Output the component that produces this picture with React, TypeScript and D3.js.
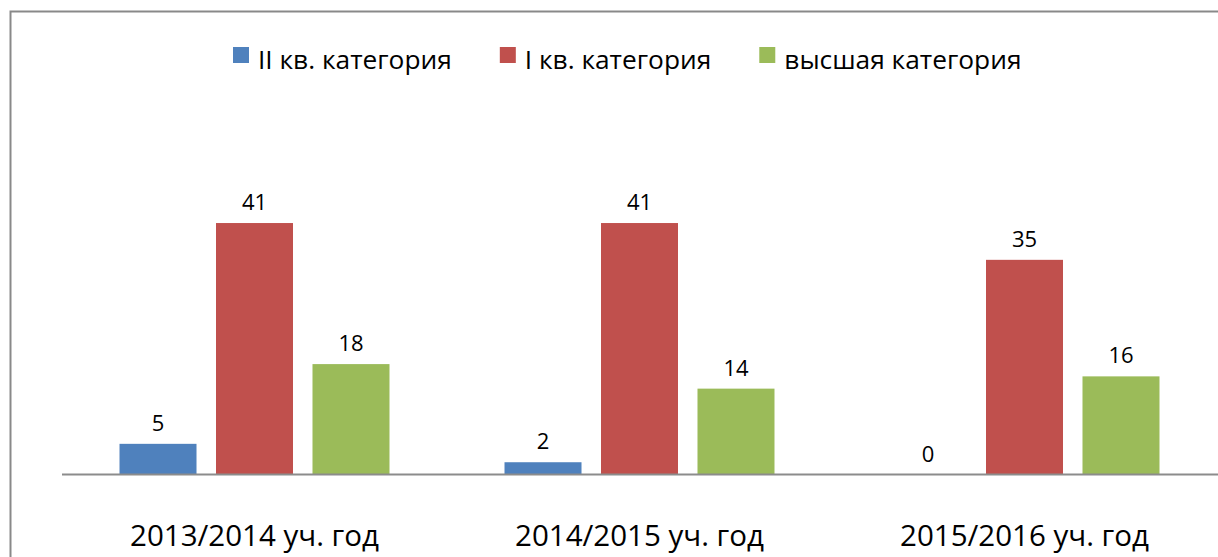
import React, { useEffect, useRef } from "react";
import * as d3 from "d3";

// categories and series
const categories = ["2013/2014 уч. год", "2014/2015 уч. год", "2015/2016 уч. год"];
const seriesNames = ["II кв. категория", "I кв. категория", "высшая категория"];
const secondCategory = [5, 2, 0];
const firstCategory = [41, 41, 35];
const highestCategory = [18, 14, 16];
const colors = ["#4F81BD", "#C0504D", "#9BBB59"];

const App = () => {
  const svgRef = useRef<SVGSVGElement>(null);

  useEffect(() => {
    const width = 1218;
    const height = 557;
    const font = "'Open Sans', 'DejaVu Sans', sans-serif";

    const svg = d3.select(svgRef.current);
    svg.selectAll("*").remove();
    svg.attr("width", width).attr("height", height);

    // background + outer frame
    svg.append("rect").attr("width", width).attr("height", height).attr("fill", "#fff");
    svg
      .append("rect")
      .attr("x", 10.5)
      .attr("y", 11.5)
      .attr("width", 1240)
      .attr("height", 600)
      .attr("fill", "none")
      .attr("stroke", "#898989")
      .attr("stroke-width", 2);

    const series = [secondCategory, firstCategory, highestCategory];
    const data = categories.map((c, i) => ({
      category: c,
      values: seriesNames.map((s, j) => ({ key: s, value: series[j][i], color: colors[j] })),
    }));

    // scales
    const x0 = d3.scaleBand().domain(categories).range([62, 1217]);
    const x1 = d3
      .scaleBand()
      .domain(seriesNames)
      .range([0, x0.bandwidth()])
      .paddingInner(0.202)
      .paddingOuter(0.596);
    const y = d3.scaleLinear().domain([0, 45]).range([474.5, 198.5]);

    // bars
    const groups = svg
      .selectAll(".group")
      .data(data)
      .join("g")
      .attr("class", "group")
      .attr("transform", (d) => `translate(${x0(d.category)},0)`);

    groups
      .selectAll("rect")
      .data((d) => d.values)
      .join("rect")
      .attr("x", (d) => x1(d.key)!)
      .attr("y", (d) => y(d.value))
      .attr("width", x1.bandwidth())
      .attr("height", (d) => y(0) - y(d.value))
      .attr("fill", (d) => d.color);

    // value labels
    groups
      .selectAll("text")
      .data((d) => d.values)
      .join("text")
      .attr("x", (d) => x1(d.key)! + x1.bandwidth() / 2)
      .attr("y", (d) => y(d.value) - 13)
      .attr("text-anchor", "middle")
      .style("font-family", font)
      .style("font-size", "22px")
      .attr("fill", "#000")
      .text((d) => d.value);

    // baseline
    svg
      .append("line")
      .attr("x1", 62)
      .attr("x2", width)
      .attr("y1", y(0))
      .attr("y2", y(0))
      .attr("stroke", "#8c8c8c")
      .attr("stroke-width", 2);

    // category labels
    svg
      .selectAll(".cat-label")
      .data(categories)
      .join("text")
      .attr("class", "cat-label")
      .attr("x", (d) => x0(d)! + x0.bandwidth() / 2)
      .attr("y", 546)
      .attr("text-anchor", "middle")
      .style("font-family", font)
      .style("font-size", "29.5px")
      .attr("fill", "#000")
      .text((d) => d);

    // legend
    const legend = svg.append("g").attr("transform", "translate(233,0)");
    let offset = 0;
    seriesNames.forEach((name, i) => {
      const item = legend.append("g").attr("transform", `translate(${offset},0)`);
      item
        .append("rect")
        .attr("x", 0)
        .attr("y", 47)
        .attr("width", 16)
        .attr("height", 16)
        .attr("fill", colors[i]);
      const t = item
        .append("text")
        .attr("x", 25)
        .attr("y", 69)
        .style("font-family", font)
        .style("font-size", "26.3px")
        .attr("fill", "#000")
        .text(name);
      const w = (t.node() as SVGTextElement).getComputedTextLength();
      offset += 25 + w + 48;
    });
  }, []);

  return (
    <svg
      ref={svgRef}
      style={{ position: "fixed", left: 0, top: 0, display: "block" }}
    ></svg>
  );
};

export default App;
